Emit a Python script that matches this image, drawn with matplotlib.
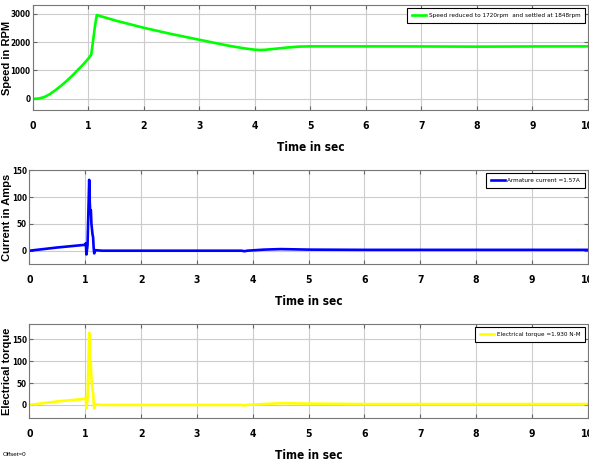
import matplotlib
matplotlib.use("Agg")
import matplotlib.pyplot as plt
from matplotlib.transforms import blended_transform_factory

# Speed response (RPM)
t_speed = [0, 0.1, 0.2, 0.3, 0.4, 0.5, 0.6, 0.7, 0.8, 0.9, 1.0, 1.03, 1.05, 1.08, 1.12, 1.15,
           1.5, 2.0, 2.5, 3.0, 3.5, 3.8, 4.0, 4.1, 4.2, 4.4, 4.6, 4.8, 5.0, 6, 7, 8, 9, 10]
speed = [0, 10, 60, 160, 300, 450, 620, 800, 1000, 1200, 1420, 1500, 1560, 2000, 2600, 2950,
         2750, 2500, 2280, 2080, 1880, 1780, 1730, 1720, 1730, 1770, 1810, 1840, 1848, 1848,
         1845, 1838, 1845, 1848]

# Armature current (A)
t_cur = [0, 0.5, 1.0, 1.01, 1.02, 1.04, 1.07, 1.08, 1.09, 1.10, 1.11, 1.13, 1.14, 1.15, 1.16,
         1.18, 1.3, 2, 3, 3.8, 3.85, 3.9, 4.2, 4.5, 5, 6, 10]
current = [0, 6, 11, 14, -7, 10, 132, 90, 70, 75, 50, 30, 25, 5, -5, 1, 0, 0, 0, 0, -1, 0,
           2, 3, 2, 1.57, 1.57]

# Electrical torque (N-M)
t_torq = [0, 0.5, 1.0, 1.01, 1.02, 1.04, 1.07, 1.08, 1.09, 1.10, 1.11, 1.13, 1.14, 1.15, 1.16,
          1.18, 1.3, 2, 3, 3.8, 3.85, 3.9, 4.2, 4.5, 5, 6, 10]
torque = [0, 8, 14, 17, -8, 12, 165, 110, 90, 95, 60, 35, 28, 6, -8, 1, 0, 0, 0, 0, -1, 0,
          2, 4, 3, 1.93, 1.93]

labels = ["Speed reduced to 1720rpm  and settled at 1848rpm",
          "Armature current =1.57A",
          "Electrical torque =1.930 N-M"]

plt.rcParams['font.family'] = ['Liberation Sans', 'DejaVu Sans']

fig = plt.figure(figsize=(5.89, 4.65), dpi=100)

positions = [[0.056, 0.763, 0.942, 0.226],
             [0.050, 0.432, 0.948, 0.202],
             [0.050, 0.101, 0.948, 0.202]]
series = [(t_speed, speed, "#00ff00", "Speed in RPM", (-400, 3300), [0, 1000, 2000, 3000]),
          (t_cur, current, "#0000ff", "Current in Amps", (-25, 150), [0, 50, 100, 150]),
          (t_torq, torque, "#ffff00", "Electrical torque", (-30, 185), [0, 50, 100, 150])]

for pos, (t, y, c, ylab, ylim, yt), lab in zip(positions, series, labels):
    ax = fig.add_axes(pos)
    ax.plot(t, y, color=c, linewidth=1.9, label=lab)
    ax.set_xlim(0, 10)
    ax.set_ylim(*ylim)
    ax.set_xticks(range(0, 11))
    ax.set_yticks(yt)
    ax.grid(True, color="#cccccc", linewidth=0.8)
    ax.tick_params(direction="in", right=True, top=True, length=3, color="#666666")
    ax.tick_params(axis="x", pad=8, labelsize=7.5)
    ax.tick_params(axis="y", pad=2, labelsize=5.8)
    for lbl in ax.get_xticklabels() + ax.get_yticklabels():
        lbl.set_fontweight("bold")
        lbl.set_family("DejaVu Sans")
        lbl.set_fontstretch("condensed")
    for s in ax.spines.values():
        s.set_color("#777777")
    ax.set_xlabel("Time in sec", fontsize=8.5, fontweight="bold", labelpad=7,
                  family="DejaVu Sans", fontstretch="condensed")
    ax.set_ylabel(ylab, fontsize=8, fontweight="bold")
    ax.yaxis.set_label_coords(12 / 589, 0.5,
                              transform=blended_transform_factory(fig.transFigure, ax.transAxes))
    leg = ax.legend(loc="upper right", fancybox=False, framealpha=1,
                    edgecolor="black", handlelength=2.2, handletextpad=0.4, borderpad=0.7,
                    prop={"family": "DejaVu Sans", "stretch": "condensed", "size": 4.6})
    leg.get_frame().set_linewidth(0.8)

fig.text(0.005, 0.02, "Offset=0", fontsize=4.5)

fig.savefig("out.png", dpi=100)
